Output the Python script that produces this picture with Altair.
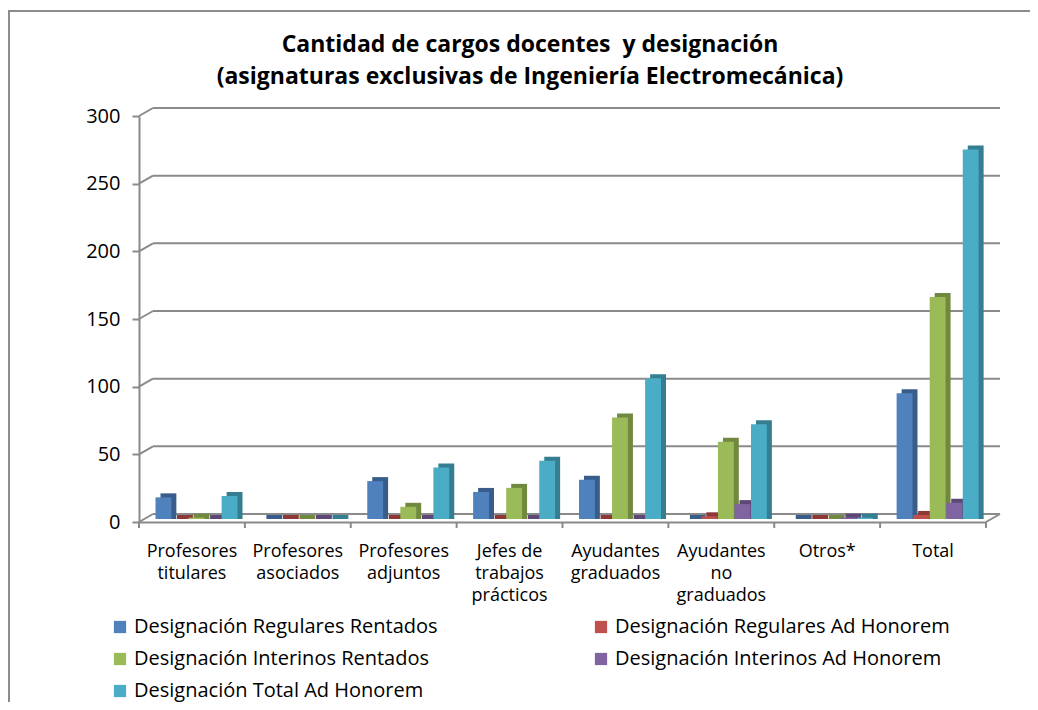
import altair as alt
import pandas as pd

categories = ["Profesores|titulares", "Profesores|asociados", "Profesores|adjuntos",
              "Jefes de|trabajos|prácticos", "Ayudantes|graduados", "Ayudantes|no|graduados",
              "Otros*", "Total"]
series = ["Designación Regulares Rentados", "Designación Regulares Ad Honorem",
          "Designación Interinos Rentados", "Designación Interinos Ad Honorem",
          "Designación Total Ad Honorem"]
regulares_rentados = [16, 0, 28, 20, 29, 0, 0, 93]
regulares_ad_honorem = [0, 0, 0, 0, 0, 2, 0, 3]
interinos_rentados = [1, 0, 9, 23, 75, 57, 0, 164]
interinos_ad_honorem = [0, 0, 0, 0, 0, 11, 1, 12]
total_ad_honorem = [17, 0, 38, 43, 104, 70, 1, 273]
colors = ["#4F81BD", "#C0504D", "#9BBB59", "#8064A2", "#4BACC6"]
shades = ["#385D8A", "#8C3836", "#71893F", "#5C4776", "#357D91"]
y_ticks = [0, 50, 100, 150, 200, 250, 300]
title_text = ("Cantidad de cargos docentes\u00a0 y designación\n"
              "(asignaturas exclusivas de Ingeniería Electromecánica)")

W, H = 847, 406
DX, DY = 14, 8
FONT = "Open Sans"
GRAY = "#8a8a8a"

values = [regulares_rentados, regulares_ad_honorem, interinos_rentados,
          interinos_ad_honorem, total_ad_honorem]
rows = []
for s, vals, shade in zip(series, values, shades):
    for c, v in zip(categories, vals):
        rows.append({"cat": c, "series": s, "value": v, "zero": 0, "shade": shade})
df = pd.DataFrame(rows)
grid_df = pd.DataFrame({"v": y_ticks})
cat_df = pd.DataFrame({"cat": categories})

# legend is filled column by column: reorder so rows read as in the original
legend_order = [0, 2, 4, 1, 3]
legend_domain = [series[i] for i in legend_order]
legend_range = [colors[i] for i in legend_order]

yscale = alt.Scale(domain=[0, 300], nice=False)
xscale = alt.Scale(domain=categories, paddingInner=0, paddingOuter=0)
yaxis = alt.Axis(title=None, values=y_ticks, tickSize=7, labelPadding=12,
                 labelFontSize=20)
xaxis = alt.Axis(title=None, ticks=False, labelPadding=20, labelFontSize=18,
                 labelLineHeight=22, labelAngle=0, labelExpr="split(datum.label, '|')")

frame = alt.Chart(pd.DataFrame({"k": [0]})).mark_rect(
    fillOpacity=0, stroke="#8c8c8c", strokeWidth=2
).encode(x=alt.value(-130), x2=alt.value(W + 80), y=alt.value(-105), y2=alt.value(H + 220))

title = alt.Chart(pd.DataFrame({"t": [title_text]})).mark_text(
    font=FONT, fontSize=23, fontWeight="bold", color="black", lineBreak="\n",
    lineHeight=32, align="center", baseline="middle"
).encode(text="t:N", x=alt.value(391), y=alt.value(-71))

back_grid = alt.Chart(grid_df).mark_rule(color=GRAY, strokeWidth=2, yOffset=-DY).encode(
    y=alt.Y("v:Q", scale=yscale, axis=yaxis),
    x=alt.value(DX), x2=alt.value(W + DX))

diag = alt.Chart(grid_df).mark_rule(color=GRAY, strokeWidth=2, y2Offset=-DY).encode(
    y=alt.Y("v:Q", scale=yscale, axis=yaxis), y2="v:Q",
    x=alt.value(0), x2=alt.value(DX))

floor_diag = alt.Chart(grid_df).transform_filter("datum.v == 0").mark_rule(
    color=GRAY, strokeWidth=2, y2Offset=-DY).encode(
    y=alt.Y("v:Q", scale=yscale, axis=yaxis), y2="v:Q",
    x=alt.value(W), x2=alt.value(W + DX))

xticks = alt.Chart(cat_df).mark_rule(color=GRAY, strokeWidth=2).encode(
    x=alt.X("cat:N", scale=xscale, sort=categories, bandPosition=0, axis=xaxis),
    y=alt.value(H), y2=alt.value(H + 6))
xtick_end = alt.Chart(pd.DataFrame({"k": [0]})).mark_rule(color=GRAY, strokeWidth=2).encode(
    x=alt.value(W), y=alt.value(H), y2=alt.value(H + 6))

base = alt.Chart(df)
extrude = base.mark_bar(yOffset=-7, y2Offset=-3).encode(
    x=alt.X("cat:N", scale=xscale, sort=categories, axis=xaxis),
    xOffset=alt.XOffset("series:N", sort=series,
                        scale=alt.Scale(range=[21.5, 103.5], paddingInner=0.04,
                                        paddingOuter=0)),
    y=alt.Y("value:Q", scale=yscale, axis=yaxis),
    y2="zero:Q",
    color=alt.Color("shade:N", scale=None))

bars = base.mark_bar(yOffset=-3, y2Offset=-3).encode(
    x=alt.X("cat:N", scale=xscale, sort=categories, axis=xaxis),
    xOffset=alt.XOffset("series:N", sort=series,
                        scale=alt.Scale(range=[16.5, 98.5], paddingInner=0.04,
                                        paddingOuter=0)),
    y=alt.Y("value:Q", scale=yscale, axis=yaxis),
    y2="zero:Q",
    fill=alt.Fill("series:N",
                  scale=alt.Scale(domain=legend_domain, range=legend_range),
                  legend=alt.Legend(orient="none", legendX=-29, legendY=501, columns=2,
                                    columnPadding=153, rowPadding=12, title=None,
                                    symbolType="square", symbolSize=150,
                                    symbolStrokeWidth=0, labelFontSize=20,
                                    labelFont=FONT, labelColor="black", labelLimit=0)))

chart = alt.layer(frame, title, back_grid, diag, floor_diag, xticks, xtick_end,
                  extrude, bars).resolve_scale(xOffset="independent").properties(
    width=W, height=H,
    autosize=alt.AutoSizeParams(type="none"),
    padding={"left": 131, "top": 108, "right": 44, "bottom": 180},
).configure_axis(
    grid=False, domainColor=GRAY, domainWidth=2, tickColor=GRAY, tickWidth=2,
    labelFont=FONT, labelColor="black"
).configure_view(stroke=None)

chart.save("out.html", embed_options={"renderer": "svg", "actions": False})
